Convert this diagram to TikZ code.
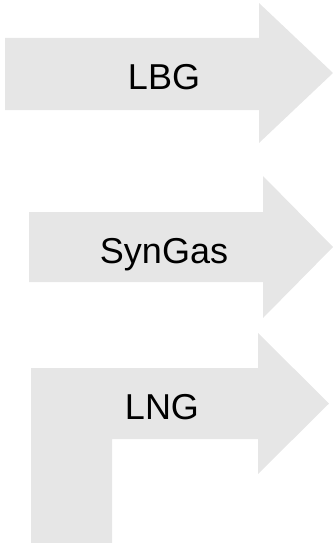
\documentclass[tikz,border=0pt]{standalone}
\usepackage{fontspec}
\setmainfont{Liberation Sans}
\definecolor{arrowfill}{RGB}{230,230,230}
\tikzset{
  flowarrow/.style={fill=arrowfill, draw=none},
  flowlabel/.style={anchor=base, inner sep=0pt, font=\fontsize{36}{40}\selectfont, text=black}
}
\begin{document}
\begin{tikzpicture}[x=1pt, y=-1pt]
  \useasboundingbox (0,0) rectangle (333,543);
  % straight arrow: LBG
  \fill[flowarrow] (5,38) -- (259,38) -- (259,3) -- (333,73) -- (259,143) -- (259,110) -- (5,110) -- cycle;
  % straight arrow: SynGas
  \fill[flowarrow] (29,212) -- (263,212) -- (263,176) -- (333,247) -- (263,318) -- (263,282) -- (29,282) -- cycle;
  % bent arrow: LNG
  \fill[flowarrow] (31,368) -- (258,368) -- (258,333) -- (329,403.5) -- (258,474) -- (258,439)
    -- (112,439) -- (112,543) -- (31,543) -- cycle;
  \node[flowlabel] (lbg) at (164,89) {LBG};
  \node[flowlabel] (syngas) at (164,263) {SynGas};
  \node[flowlabel] (lng) at (162,419) {LNG};
\end{tikzpicture}
\end{document}
